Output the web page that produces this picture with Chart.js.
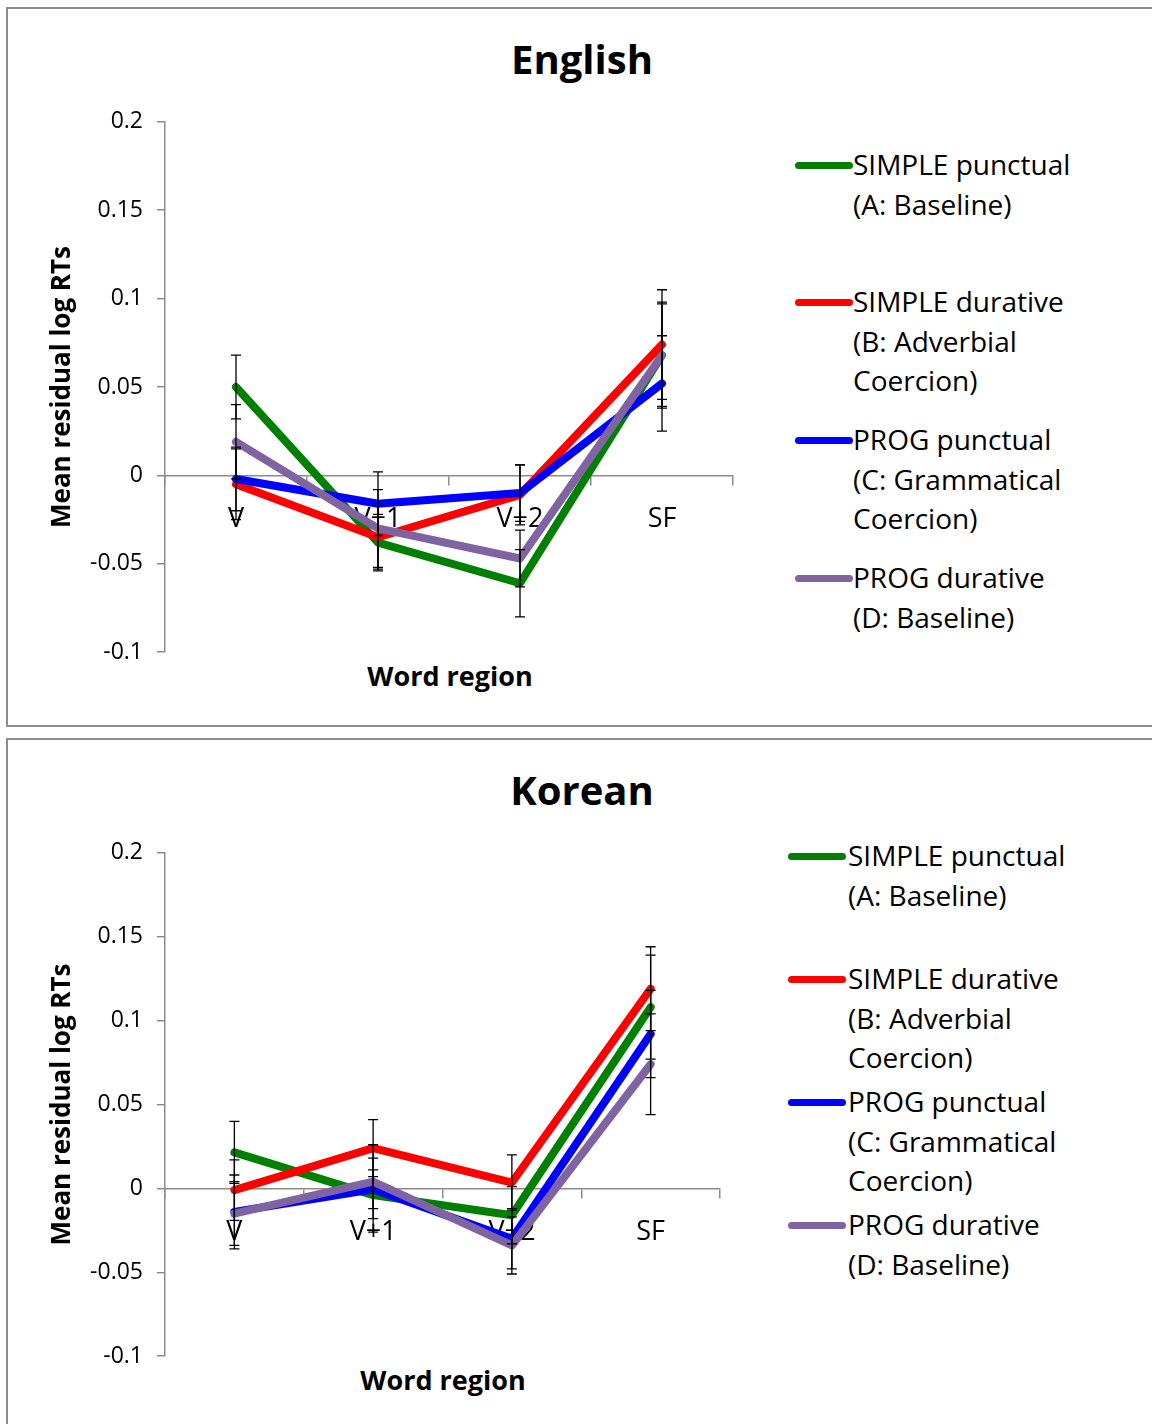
<!DOCTYPE html>
<html>
<head>
<meta charset="utf-8">
<script src="https://cdn.jsdelivr.net/npm/chart.js@4.4.1/dist/chart.umd.min.js"></script>
<style>
  html, body { margin: 0; padding: 0; background: #fff; }
  body { width: 1152px; height: 1424px; position: relative; overflow: hidden; font-family: "Open Sans", sans-serif; color: #000; }
  .panel { position: absolute; border: 2px solid #8c8c8c; background: #fff; box-sizing: border-box; }
  .title { position: absolute; font-weight: bold; font-size: 40px; text-align: center; width: 300px; line-height: 44px; }
  .xtitle { position: absolute; font-weight: bold; font-size: 27px; text-align: center; width: 300px; line-height: 30px; }
  .leg { position: absolute; font-size: 28px; line-height: 39.5px; white-space: nowrap; }
  .sw { position: absolute; height: 7px; border-radius: 4px; }
  canvas { position: absolute; }
</style>
</head>
<body>
<div class="panel" style="left:6px; top:7px; width:1160px; height:720px;"></div>
<div class="panel" style="left:6px; top:738px; width:1160px; height:700px;"></div>

<div class="title" style="left:432px; top:37px;">English</div>
<div class="title" style="left:432px; top:768px;">Korean</div>
<div class="xtitle" style="left:300px; top:661px;">Word region</div>
<div class="xtitle" style="left:293px; top:1365px;">Word region</div>

<div id="legEn"></div>
<div id="legKo"></div>

<canvas id="cEn" width="709" height="586" style="left:44px; top:94px; width:709px; height:586px;"></canvas>
<canvas id="cKo" width="696" height="559" style="left:44px; top:825px; width:696px; height:559px;"></canvas>

<script>
// ---- Data ----
const categories = ["V", "V+1", "V+2", "SF"];
const seriesNames = ["SIMPLE punctual", "SIMPLE durative", "PROG punctual", "PROG durative"];
const legendLines = [
  ["SIMPLE punctual", "(A: Baseline)"],
  ["SIMPLE durative", "(B: Adverbial", "Coercion)"],
  ["PROG punctual", "(C: Grammatical", "Coercion)"],
  ["PROG durative", "(D: Baseline)"]
];
const seriesColors = ["#008000", "#ff0000", "#0000ff", "#8064a2"];

// English
const enSimplePunctual = [0.050, -0.038, -0.061, 0.068];
const enSimpleDurative = [-0.005, -0.035, -0.011, 0.074];
const enProgPunctual   = [-0.002, -0.016, -0.010, 0.052];
const enProgDurative   = [0.019, -0.030, -0.047, 0.068];
const enErrSimplePunctual = [0.018, 0.016, 0.019, 0.030];
const enErrSimpleDurative = [0.020, 0.018, 0.017, 0.031];
const enErrProgPunctual   = [0.018, 0.018, 0.016, 0.027];
const enErrProgDurative   = [0.021, 0.022, 0.016, 0.029];

// Korean
const koSimplePunctual = [0.0215, -0.004, -0.016, 0.108];
const koSimpleDurative = [-0.001, 0.024, 0.0035, 0.119];
const koProgPunctual   = [-0.014, -0.0005, -0.030, 0.092];
const koProgDurative   = [-0.015, 0.004, -0.034, 0.074];
const koErrSimplePunctual = [0.0185, 0.022, 0.017, 0.031];
const koErrSimpleDurative = [0.018, 0.017, 0.0165, 0.025];
const koErrProgPunctual   = [0.022, 0.0115, 0.018, 0.026];
const koErrProgDurative   = [0.019, 0.022, 0.017, 0.030];

const yTickValues = [-0.1, -0.05, 0, 0.05, 0.1, 0.15, 0.2];
const yTickLabels = ["-0.1", "-0.05", "0", "0.05", "0.1", "0.15", "0.2"];
const yAxisTitle = "Mean residual log RTs";

// ---- Helpers ----
const errorBarPlugin = {
  id: 'errorBars',
  afterDatasetsDraw(chart) {
    const ctx = chart.ctx;
    const ys = chart.scales.y;
    ctx.save();
    ctx.strokeStyle = '#000';
    ctx.lineWidth = 1.3;
    chart.data.datasets.forEach((ds, di) => {
      const meta = chart.getDatasetMeta(di);
      meta.data.forEach((pt, i) => {
        const v = ds.data[i], e = ds.errors[i];
        const x = pt.x;
        const yTop = ys.getPixelForValue(v + e);
        const yBot = ys.getPixelForValue(v - e);
        ctx.beginPath();
        ctx.moveTo(x, yTop); ctx.lineTo(x, yBot);
        ctx.moveTo(x - 5, yTop); ctx.lineTo(x + 5, yTop);
        ctx.moveTo(x - 5, yBot); ctx.lineTo(x + 5, yBot);
        ctx.stroke();
      });
    });
    ctx.restore();
  }
};

function makeChart(id, values, errors) {
  const datasets = values.map((vals, i) => ({
    label: seriesNames[i],
    data: vals,
    errors: errors[i],
    borderColor: seriesColors[i],
    backgroundColor: seriesColors[i],
    borderWidth: 8,
    pointRadius: 0,
    borderJoinStyle: 'round',
    borderCapStyle: 'round',
    tension: 0,
    order: 4 - i
  }));
  return new Chart(document.getElementById(id), {
    type: 'line',
    data: { labels: categories, datasets },
    options: {
      responsive: false,
      animation: false,
      events: [],
      layout: { padding: { left: 0, right: 20, top: 20, bottom: 20 } },
      plugins: { legend: { display: false }, tooltip: { enabled: false }, title: { display: false } },
      scales: {
        x: {
          type: 'category',
          position: { y: 0 },
          offset: true,
          grid: { display: true, offset: true, drawOnChartArea: false, drawTicks: true, tickLength: 9, color: '#8c8c8c', lineWidth: 1.5 },
          border: { display: true, color: '#8c8c8c', width: 1.5 },
          ticks: { color: '#000', font: { family: 'Open Sans', size: 27 }, padding: 19, maxRotation: 0 }
        },
        y: {
          min: -0.1, max: 0.2,
          afterBuildTicks: (scale) => { scale.ticks = yTickValues.map(v => ({ value: v })); },
          afterFit: (scale) => { scale.width = 121; },
          grid: { display: true, drawOnChartArea: false, drawTicks: true, tickLength: 8, color: '#8c8c8c', lineWidth: 1.5 },
          border: { display: true, color: '#8c8c8c', width: 1.5 },
          ticks: {
            color: '#000', font: { family: 'Open Sans', size: 23 }, padding: 14,
            callback: (v) => { const k = yTickValues.findIndex(t => Math.abs(t - v) < 1e-9); return k >= 0 ? yTickLabels[k] : ''; }
          },
          title: { display: true, text: yAxisTitle, color: '#000', font: { family: 'Open Sans', size: 26, weight: 'bold' }, padding: { top: 3, bottom: 3 } }
        }
      }
    },
    plugins: [errorBarPlugin]
  });
}

makeChart('cEn',
  [enSimplePunctual, enSimpleDurative, enProgPunctual, enProgDurative],
  [enErrSimplePunctual, enErrSimpleDurative, enErrProgPunctual, enErrProgDurative]);
makeChart('cKo',
  [koSimplePunctual, koSimpleDurative, koProgPunctual, koProgDurative],
  [koErrSimplePunctual, koErrSimpleDurative, koErrProgPunctual, koErrProgDurative]);

// ---- HTML legends ----
function buildLegend(containerId, swLeft, swWidth, textLeft, firstLineYs) {
  const c = document.getElementById(containerId);
  legendLines.forEach((lines, i) => {
    const sw = document.createElement('div');
    sw.className = 'sw';
    sw.style.left = swLeft + 'px';
    sw.style.width = swWidth + 'px';
    sw.style.top = (firstLineYs[i] - 3.5) + 'px';
    sw.style.background = seriesColors[i];
    c.appendChild(sw);
    const t = document.createElement('div');
    t.className = 'leg';
    t.style.left = textLeft + 'px';
    t.style.top = (firstLineYs[i] - 19.75) + 'px';
    t.innerHTML = lines.join('<br>');
    c.appendChild(t);
  });
}
buildLegend('legEn', 795, 58, 853, [165, 302, 440, 578]);
buildLegend('legKo', 788, 58, 848, [856, 979, 1102, 1225]);
</script>
</body>
</html>
